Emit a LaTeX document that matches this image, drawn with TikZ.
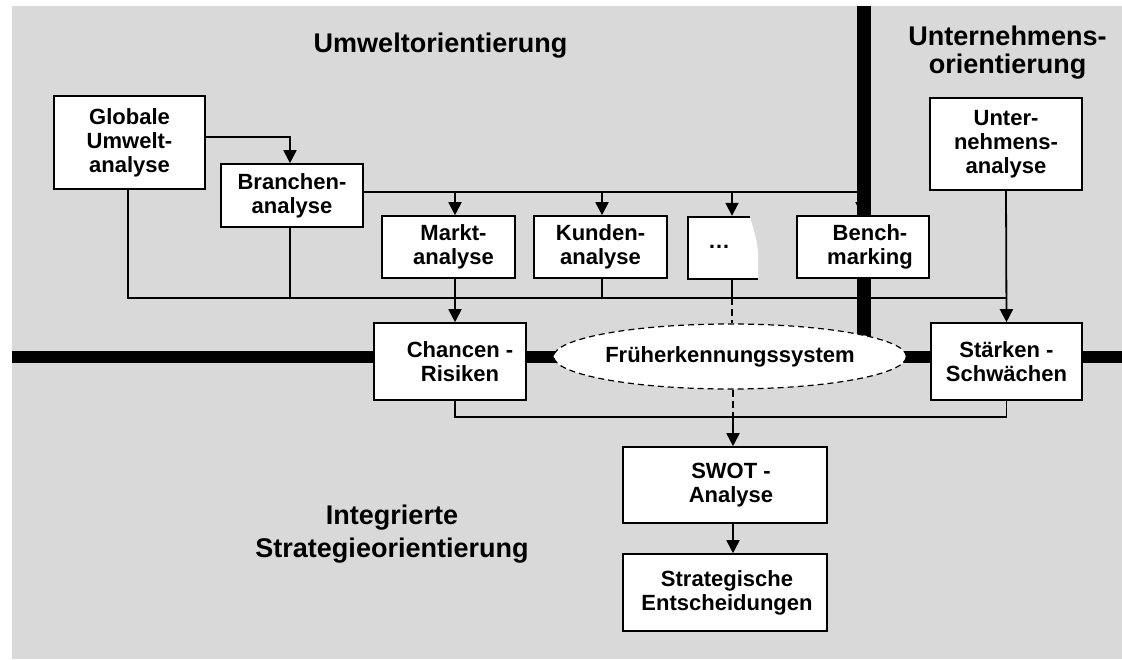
\documentclass[tikz,border=0pt]{standalone}
\usepackage{fontspec}
\setmainfont{Liberation Sans}
\usetikzlibrary{arrows.meta,shapes.geometric,calc}
\pgfdeclarelayer{bg}\pgfdeclarelayer{mid}\pgfsetlayers{bg,mid,main}
\definecolor{panel}{RGB}{217,217,217}
\newcommand\bxfont{\fontsize{22}{24}\selectfont\bfseries}
\begin{document}
\begin{tikzpicture}[x=1pt,y=-1pt,
  box/.style={draw,line width=1.6pt,fill=white,inner sep=0pt,align=center,font=\bxfont},
  conn/.style={line width=1.8pt},
  arr/.style={conn,-{Triangle[width=13pt,length=13pt]}},
  dsh/.style={line width=1.8pt,dash pattern=on 7pt off 4pt},
  bar/.style={line width=12pt}]
\useasboundingbox (0,0) rectangle (1122,659);
\begin{pgfonlayer}{bg}
  \fill[panel] (12,6) rectangle (1122,659);
\end{pgfonlayer}
% boxes
\node[box,minimum width=151pt,minimum height=93pt] (glob) at (129.5,142.5) {Globale\\Umwelt-\\analyse};
\node[box,minimum width=142pt,minimum height=63pt] (bran) at (292,195.5) {Branchen-\\analyse};
\node[box,minimum width=133pt,minimum height=62pt] (markt) at (448.5,247) {\hspace*{10pt}Markt-\\\hspace*{10pt}analyse};
\node[box,minimum width=133pt,minimum height=62pt] (kund) at (600.5,247) {Kunden-\\analyse};
\node[inner sep=0pt,minimum width=70pt,minimum height=62pt,font=\bxfont] (dots) at (723,247) {\hspace*{-8pt}…};
\node[box,minimum width=132pt,minimum height=62pt] (bench) at (863,247) {\hspace*{14pt}Bench-\\\hspace*{14pt}marking};
\node[box,minimum width=152pt,minimum height=92pt] (unt) at (1006,144) {Unter-\\nehmens-\\analyse};
\node[box,minimum width=152pt,minimum height=77pt] (chancen) at (450,361.5) {\hspace*{20pt}Chancen -\\\hspace*{20pt}Risiken};
\node[box,minimum width=151pt,minimum height=77pt] (staerken) at (1006.5,361.5) {Stärken -\\Schwächen};
\node[ellipse,draw,fill=white,line width=1.2pt,dash pattern=on 6pt off 4pt,minimum width=340pt,minimum height=65pt,inner sep=0pt,font=\bxfont] (fr) at (730,356.5) {Früherkennungssystem};
\node[box,minimum width=204pt,minimum height=76pt] (swot) at (725,485) {\hspace*{12pt}SWOT -\\\hspace*{12pt}Analyse};
\node[box,minimum width=204pt,minimum height=77pt] (strat) at (725,592.5) {\hspace*{4pt}Strategische\\\hspace*{4pt}Entscheidungen};
% titles
\node[font=\fontsize{27}{28}\selectfont\bfseries,anchor=base] (t1) at (440.5,52) {Umweltorientierung};
\node[font=\fontsize{27}{28.5}\selectfont\bfseries,align=center] (t2) at (1007.5,52.8) {Unternehmens-\\orientierung};
\node[font=\fontsize{27}{33}\selectfont\bfseries,align=center] (t3) at (392,534.5) {Integrierte\\Strategieorientierung};
% connectors
\begin{pgfonlayer}{mid}
  \coordinate (b1) at (862,192);
  \coordinate (b2) at (1006,298);
  \coordinate (b3) at (733,417);
  \coordinate (mkx) at ($(markt.north)+(6.5,0)$);
  \coordinate (kux) at ($(kund.north)+(1.5,0)$);
  \coordinate (dtx) at ($(dots.north)+(9,0)$);
  \coordinate (bnx) at ($(bench.north)+(-1,0)$);
  \coordinate (gbx) at ($(glob.south)+(-1.5,0)$);
  \coordinate (brx) at ($(bran.south)+(-2,0)$);
  \coordinate (chx) at ($(chancen.south)+(5,0)$);
  \draw[arr] ([yshift=5.5pt]glob.east) -| ([xshift=-2pt]bran.north);
  \draw[conn] ([yshift=3.5pt]bran.east) -- (b1);
  \draw[arr] (mkx |- b1) -- (mkx);
  \draw[arr] (kux |- b1) -- (kux);
  \draw[arr] (dtx |- b1) -- (dtx);
  \draw[arr] (bnx |- b1) -- (bnx);
  \draw[conn] (gbx) |- (b2);
  \draw[conn] (brx) -- (brx |- b2);
  \draw[conn] (kux |- kund.south) -- (kux |- b2);
  \draw[conn] (dtx |- dots.south) -- (dtx |- b2);
  \draw[dsh] (dtx |- b2) -- (dtx |- fr.north);
  \draw[arr] (mkx |- markt.south) -- (mkx |- chancen.north);
  \draw[arr] (unt.south) -- (staerken.north);
  \draw[conn] (chx) |- (b3) -| (staerken.south);
  \draw[dsh] (b3 |- fr.south) -- (b3);
  \draw[arr] (b3) -- (b3 |- swot.north);
  \draw[arr] (b3 |- swot.south) -- (b3 |- strat.north);
  % thick separating bars
  \draw[bar] (12,357) -- (1122,357);
  \draw[line width=13.4pt] (864,6) -- (864,357);
  % torn box behind the dots
  \fill[white] (688,217) -- (750,217) .. controls (753,228) and (757,238) .. (758,253) -- (758,279) -- (688,279) -- cycle;
  \draw[line width=1.6pt] (750,217) -- (688,217) -- (688,279) -- (758,279);
\end{pgfonlayer}
\end{tikzpicture}
\end{document}
